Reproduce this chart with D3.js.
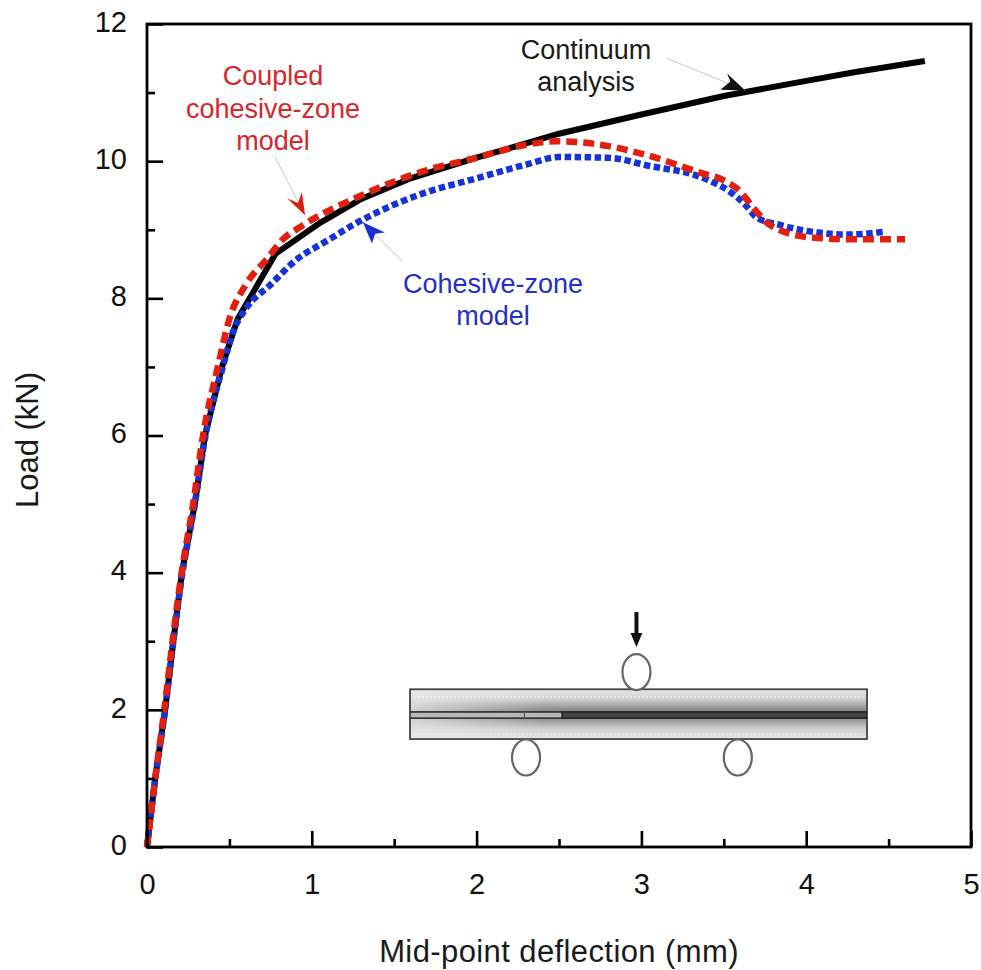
<!DOCTYPE html>
<html>
<head>
<meta charset="utf-8">
<script src="https://cdn.jsdelivr.net/npm/d3@7"></script>
<style>
  html, body { margin: 0; padding: 0; background: #fff; }
  text { font-family: "Liberation Sans", Arial, sans-serif; }
</style>
</head>
<body>
<div id="chart"></div>
<script>
// curves as [deflection mm, load kN]
const continuum = [[0,0],[0.05,1],[0.11,2],[0.16,3],[0.212,4],[0.29,5],[0.352,6],[0.455,7],[0.55,7.7],[0.78,8.65],[1.05,9.1],[1.3,9.45],[1.6,9.75],[2,10.05],[2.5,10.4],[3,10.68],[3.5,10.95],[4,11.17],[4.3,11.3],[4.72,11.46]];
const coupled = [[0,0],[0.05,1],[0.105,2],[0.155,3],[0.21,4],[0.28,5],[0.34,6],[0.43,7],[0.5,7.7],[0.6,8.2],[0.73,8.58],[0.82,8.85],[0.93,9.04],[1.3,9.5],[1.7,9.87],[2,10.05],[2.3,10.24],[2.49,10.29],[2.8,10.22],[3.03,10.09],[3.36,9.83],[3.5,9.72],[3.59,9.58],[3.69,9.29],[3.78,9.07],[4.02,8.89],[4.3,8.86],[4.6,8.86]];
const cohesive = [[0,0],[0.05,1],[0.11,2],[0.16,3],[0.215,4],[0.29,5],[0.355,6],[0.46,7],[0.52,7.5],[0.6,7.85],[0.75,8.2],[0.9,8.55],[1.1,8.85],[1.28,9.11],[1.675,9.53],[2,9.75],[2.3,9.95],[2.5,10.06],[2.8,10.05],[3.03,9.94],[3.4,9.73],[3.54,9.55],[3.62,9.39],[3.7,9.18],[3.84,9.07],[4.07,8.96],[4.25,8.93],[4.47,8.97]];

const xTicks = [0,1,2,3,4,5];
const xMinor = [0.5,1.5,2.5,3.5,4.5];
const yTicks = [0,2,4,6,8,10,12];
const yMinor = [1,3,5,7,9,11];

// annotations in data units
const labels = [
  {t:"Continuum", x:2.664, y:11.49, c:"#1a1a1a"},
  {t:"analysis", x:2.664, y:11.03, c:"#1a1a1a"},
  {t:"Coupled", x:0.765, y:11.11, c:"#d8262a"},
  {t:"cohesive-zone", x:0.765, y:10.63, c:"#d8262a"},
  {t:"model", x:0.765, y:10.17, c:"#d8262a"},
  {t:"Cohesive-zone", x:2.1, y:8.08, c:"#2230c8"},
  {t:"model", x:2.1, y:7.61, c:"#2230c8"}
];
const pointers = [
  {from:[3.155,11.5], tip:[3.63,11.03], head:[[3.52,11.28],[3.54,11.16],[3.48,11.04]], c:"#111"},
  {from:[0.777,10.06], tip:[0.959,9.21], head:[[0.85,9.46],[0.916,9.39],[0.94,9.55]], c:"#e0200f"},
  {from:[1.553,8.53], tip:[1.31,9.11], head:[[1.444,8.96],[1.384,8.94],[1.365,8.8]], c:"#1a2fd0"}
];

// beam sketch, also in data units
const beamX = [1.596, 4.369];
const upperBeam = [2.30, 1.968];
const lowerBeam = [1.88, 1.574];
const crackEnd = 2.52;
const crackMark = 2.29;
const rollers = [[2.97,2.551],[2.30,1.305],[3.585,1.305]];
const loadArrow = {x:2.97, top:3.426, base:3.12, tip:2.915, half:0.036};

const width = 981, height = 970;
const margin = {left:147, right:10, top:24, bottom:123};

const svg = d3.select("#chart").append("svg")
  .attr("width", width).attr("height", height);

const x = d3.scaleLinear().domain([0,5]).range([margin.left, width - margin.right]);
const y = d3.scaleLinear().domain([0,12]).range([height - margin.bottom, margin.top]);

const defs = svg.append("defs");
function grad(id, vertical, stops){
  const g = defs.append("linearGradient").attr("id", id)
    .attr("x1",0).attr("y1",0).attr("x2", vertical ? 0 : 1).attr("y2", vertical ? 1 : 0);
  stops.forEach(s => g.append("stop").attr("offset", s[0]).attr("stop-color", s[1]).attr("stop-opacity", s[2]));
}
grad("upperFill", true, [[0,"#e6e6e6",1],[0.4,"#d4d4d4",1],[1,"#7e7e7e",1]]);
grad("lowerFill", true, [[0,"#8a8a8a",1],[0.5,"#cfcfcf",1],[1,"#e6e6e6",1]]);
grad("leftFade", false, [[0,"#e8e8e8",0.75],[0.3,"#e8e8e8",0]]);

// inset
const inset = svg.append("g");
const bw = x(beamX[1]) - x(beamX[0]);
function beam(range, fill){
  inset.append("rect")
    .attr("x", x(beamX[0])).attr("y", y(range[0]))
    .attr("width", bw).attr("height", y(range[1]) - y(range[0]))
    .attr("fill", `url(#${fill})`);
  inset.append("rect")
    .attr("x", x(beamX[0])).attr("y", y(range[0]))
    .attr("width", bw).attr("height", y(range[1]) - y(range[0]))
    .attr("fill", "url(#leftFade)")
    .attr("stroke", "#444").attr("stroke-width", 1.8);
}
beam(upperBeam, "upperFill");
beam(lowerBeam, "lowerFill");

// dotted rows inside the plies
[upperBeam[0] - 0.11, lowerBeam[1] + 0.07].forEach(v => {
  inset.append("line")
    .attr("x1", x(beamX[0]) + 4).attr("x2", x(beamX[1]) - 4)
    .attr("y1", y(v)).attr("y2", y(v))
    .attr("stroke", "#f6f6f6").attr("stroke-width", 1.2).attr("stroke-dasharray", "1.5 2.5");
});
// bond line and pre-crack
inset.append("rect")
  .attr("x", x(beamX[0])).attr("y", y(upperBeam[1]))
  .attr("width", x(crackEnd) - x(beamX[0])).attr("height", y(lowerBeam[0]) - y(upperBeam[1]))
  .attr("fill", "#b8b8b8").attr("stroke", "#333").attr("stroke-width", 1.5);
inset.append("rect")
  .attr("x", x(crackEnd)).attr("y", y(upperBeam[1]))
  .attr("width", x(beamX[1]) - x(crackEnd)).attr("height", y(lowerBeam[0]) - y(upperBeam[1]))
  .attr("fill", "#444").attr("stroke", "#222").attr("stroke-width", 1.5);
inset.append("line")
  .attr("x1", x(crackMark)).attr("x2", x(crackMark))
  .attr("y1", y(upperBeam[1])).attr("y2", y(lowerBeam[0]))
  .attr("stroke", "#555").attr("stroke-width", 1.2);

inset.selectAll("ellipse").data(rollers).join("ellipse")
  .attr("cx", d => x(d[0])).attr("cy", d => y(d[1]))
  .attr("rx", 14).attr("ry", 18)
  .attr("fill", "#fff").attr("stroke", "#666").attr("stroke-width", 2.2);

inset.append("line")
  .attr("x1", x(loadArrow.x)).attr("x2", x(loadArrow.x))
  .attr("y1", y(loadArrow.top)).attr("y2", y(loadArrow.base))
  .attr("stroke", "#111").attr("stroke-width", 4);
inset.append("path")
  .attr("d", d3.line().x(d => x(d[0])).y(d => y(d[1]))([
    [loadArrow.x - loadArrow.half, loadArrow.base],
    [loadArrow.x + loadArrow.half, loadArrow.base],
    [loadArrow.x, loadArrow.tip]
  ]) + "Z")
  .attr("fill", "#111");

// curves
const line = d3.line().x(d => x(d[0])).y(d => y(d[1]));
const smooth = d3.line().x(d => x(d[0])).y(d => y(d[1])).curve(d3.curveMonotoneX);
svg.append("path").datum(continuum).attr("d", line)
  .attr("fill", "none").attr("stroke", "#000").attr("stroke-width", 6);
svg.append("path").datum(cohesive).attr("d", smooth)
  .attr("fill", "none").attr("stroke", "#1533d6").attr("stroke-width", 6.5)
  .attr("stroke-dasharray", "6.5 3.5");
svg.append("path").datum(coupled).attr("d", smooth)
  .attr("fill", "none").attr("stroke", "#e2200f").attr("stroke-width", 6.5)
  .attr("stroke-dasharray", "11 6");

// frame
svg.append("rect")
  .attr("x", x(0)).attr("y", y(12))
  .attr("width", x(5) - x(0)).attr("height", y(0) - y(12))
  .attr("fill", "none").attr("stroke", "#000").attr("stroke-width", 2.8);

// axes, ticks point inward
function styleAxis(g){
  g.select(".domain").remove();
  g.selectAll(".tick line").attr("stroke", "#000").attr("stroke-width", 2.6);
  g.selectAll(".tick text").attr("fill", "#111").attr("font-size", 29)
    .style("font-family", '"Liberation Sans", Arial, sans-serif');
}
svg.append("g").attr("transform", `translate(0,${y(0)})`)
  .call(d3.axisBottom(x).tickValues(xTicks).tickFormat(d3.format("d")).tickSize(-16).tickPadding(26))
  .call(styleAxis);
svg.append("g").attr("transform", `translate(0,${y(0)})`)
  .call(d3.axisBottom(x).tickValues(xMinor).tickFormat("").tickSize(-8))
  .call(styleAxis);
svg.append("g").attr("transform", `translate(${x(0)},0)`)
  .call(d3.axisLeft(y).tickValues(yTicks).tickFormat(d3.format("d")).tickSize(-16).tickPadding(20))
  .call(styleAxis)
  .call(g => g.selectAll(".tick text").attr("dy", "0.25em"));
svg.append("g").attr("transform", `translate(${x(0)},0)`)
  .call(d3.axisLeft(y).tickValues(yMinor).tickFormat("").tickSize(-8))
  .call(styleAxis);

// axis titles
svg.append("text")
  .attr("x", (x(0) + x(5)) / 2).attr("y", 962)
  .attr("text-anchor", "middle").attr("font-size", 31).attr("letter-spacing", 0.4).attr("fill", "#1a1a1a")
  .text("Mid-point deflection (mm)");
svg.append("text")
  .attr("transform", "translate(38,440) rotate(-90)")
  .attr("text-anchor", "middle").attr("font-size", 31).attr("fill", "#1a1a1a")
  .text("Load (kN)");

// pointers
pointers.forEach(p => {
  svg.append("line")
    .attr("x1", x(p.from[0])).attr("y1", y(p.from[1]))
    .attr("x2", x(p.tip[0])).attr("y2", y(p.tip[1]))
    .attr("stroke", "#c8c8c8").attr("stroke-width", 1);
  svg.append("path")
    .attr("d", line([p.tip, ...p.head]) + "Z")
    .attr("fill", p.c);
});

// labels
svg.selectAll(".note").data(labels).join("text")
  .attr("class", "note")
  .attr("x", d => x(d.x)).attr("y", d => y(d.y))
  .attr("text-anchor", "middle").attr("font-size", 27)
  .attr("fill", d => d.c)
  .text(d => d.t);
</script>
</body>
</html>
